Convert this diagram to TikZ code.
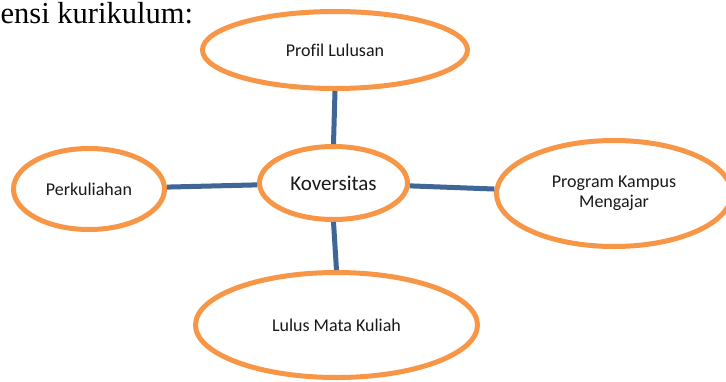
\documentclass[tikz,border=0pt]{standalone}
\usepackage{fontspec}
\setmainfont{Liberation Serif}
\newfontfamily\calib[Ligatures=NoCommon]{Carlito}
\usetikzlibrary{shapes.geometric}
\definecolor{ellorange}{HTML}{F79646}
\definecolor{linkblue}{HTML}{3F6696}
\tikzset{
  bubble/.style={ellipse, draw=ellorange, line width=5pt, inner sep=0pt,
    font=\calib\fontsize{18}{19.5}\selectfont, align=center, text=black!90},
  link/.style={draw=linkblue, line width=5pt}
}
\begin{document}
\begin{tikzpicture}[x=1pt, y=-1pt]
\useasboundingbox (0,0) rectangle (726,381);
\node[anchor=base west, font=\fontsize{30.5}{34}\selectfont, inner sep=0pt] (hdr) at (0.5,23) {ensi kurikulum:};
\node[bubble, minimum width=265pt, minimum height=77pt] (prof) at (335,50) {Profil Lulusan};
\node[bubble, minimum width=151pt, minimum height=81pt] (perk) at (89,189) {Perkuliahan};
\node[bubble, minimum width=148pt, minimum height=73pt, font=\calib\fontsize{21}{24}\selectfont] (kov) at (333.5,183) {Koversitas};
\node[bubble, minimum width=235pt, minimum height=106pt] (prog) at (614,193.5) {Program Kampus\\Mengajar};
\node[bubble, minimum width=282pt, minimum height=105pt] (lulus) at (336.5,325) {Lulus Mata Kuliah};
\draw[link] (prof.south) -- (kov.north);
\draw[link] (kov.south) -- (lulus.north);
\draw[link] (perk) -- (kov);
\draw[link] (kov) -- (prog);
\end{tikzpicture}
\end{document}
